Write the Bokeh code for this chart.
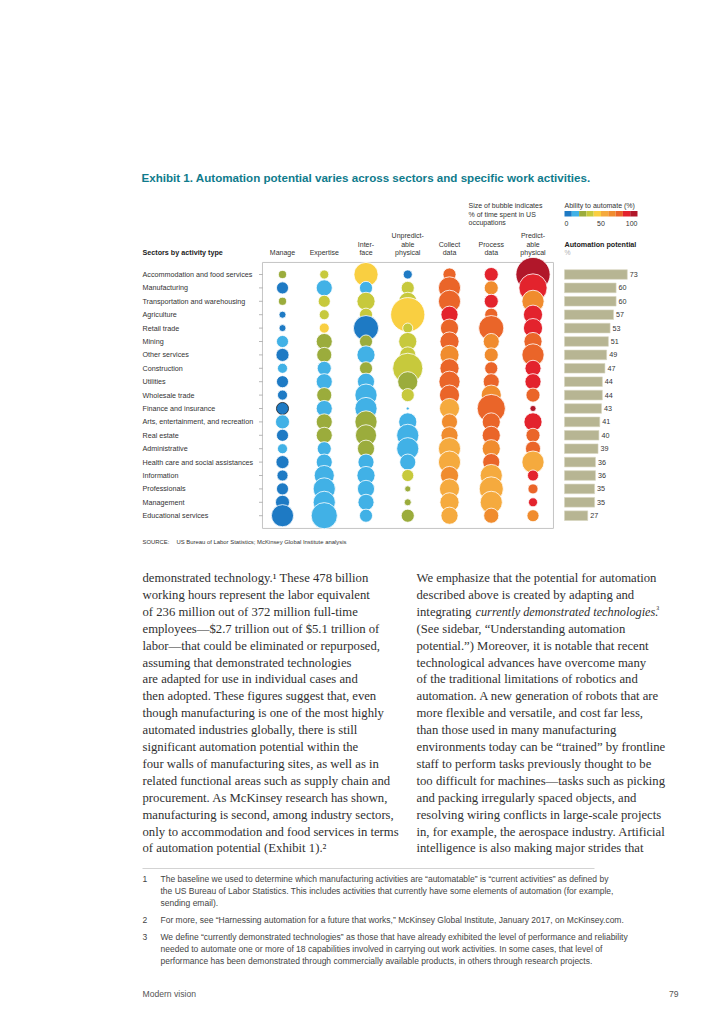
import math
from bokeh.plotting import figure
from bokeh.models import Range1d
from bokeh.embed import file_html
from bokeh.resources import INLINE
from bokeh.core.properties import value

# ---------------- data ----------------
title = "Exhibit 1. Automation potential varies across sectors and specific work activities."

sectors = [
    "Accommodation and food services", "Manufacturing", "Transportation and warehousing",
    "Agriculture", "Retail trade", "Mining", "Other services", "Construction", "Utilities",
    "Wholesale trade", "Finance and insurance", "Arts, entertainment, and recreation",
    "Real estate", "Administrative", "Health care and social assistances", "Information",
    "Professionals", "Management", "Educational services",
]

activity_headers = [
    ["Manage"], ["Expertise"], ["Inter-", "face"], ["Unpredict-", "able", "physical"],
    ["Collect", "data"], ["Process", "data"], ["Predict-", "able", "physical"],
]

# % of time spent (bubble size), one list per activity, sectors in order above
time_manage = [2.8, 6.2, 2.8, 2.1, 2.1, 6.2, 7.3, 4.3, 6.2, 4.3, 6.2, 8.4, 6.2, 4.3, 7.3, 5.2, 6.2, 8.4, 20.9]
time_expertise = [3.5, 11.0, 6.2, 4.3, 4.3, 11.0, 9.7, 8.4, 11.0, 9.7, 11.0, 11.0, 11.0, 8.4, 11.0, 17.2, 20.9, 20.9, 29.1]
time_interface = [24.8, 7.3, 14.0, 7.3, 26.9, 7.3, 14.0, 7.3, 12.5, 20.9, 20.9, 20.9, 19.0, 12.5, 11.0, 14.0, 12.5, 11.0, 7.3]
time_unpred = [3.5, 7.3, 14.0, 49.8, 4.3, 14.0, 11.0, 38.8, 17.2, 7.3, 0.4, 14.0, 20.9, 20.9, 11.0, 6.2, 1.6, 2.1, 7.3]
time_collect = [7.3, 20.9, 20.9, 12.5, 14.0, 15.6, 15.6, 15.6, 19.0, 17.2, 17.2, 11.0, 12.5, 20.9, 20.9, 14.0, 17.2, 15.6, 12.5]
time_process = [8.4, 8.4, 8.4, 7.3, 26.9, 11.0, 8.4, 7.3, 11.0, 17.2, 33.8, 14.0, 14.0, 14.0, 12.5, 20.9, 24.8, 20.9, 9.7]
time_pred = [49.8, 33.8, 20.9, 15.6, 15.6, 14.0, 20.9, 11.0, 11.0, 8.4, 1.6, 14.0, 8.4, 9.7, 20.9, 5.2, 4.3, 3.5, 6.2]

# ability to automate (%) (bubble colour)
auto_manage = [25, 5, 25, 5, 5, 15, 5, 15, 5, 5, 5, 15, 5, 15, 5, 5, 5, 5, 5]
auto_expertise = [35, 15, 35, 35, 45, 25, 25, 15, 15, 25, 15, 25, 25, 15, 15, 15, 15, 15, 15]
auto_interface = [45, 15, 35, 35, 5, 25, 15, 25, 15, 15, 15, 25, 25, 25, 15, 15, 15, 15, 15]
auto_unpred = [5, 35, 35, 45, 35, 35, 35, 35, 25, 35, 15, 15, 15, 15, 15, 35, 25, 25, 25]
auto_collect = [75, 75, 75, 85, 75, 75, 65, 75, 75, 75, 55, 65, 65, 55, 55, 65, 55, 55, 55]
auto_process = [85, 65, 85, 75, 75, 65, 65, 75, 75, 65, 75, 75, 75, 65, 75, 55, 55, 55, 65]
auto_pred = [95, 85, 65, 85, 85, 75, 75, 85, 85, 75, 95, 85, 75, 75, 55, 85, 75, 85, 65]

automation_potential = [73, 60, 60, 57, 53, 51, 49, 47, 44, 44, 43, 41, 40, 39, 36, 36, 35, 35, 27]

scale_ticks = [0, 50, 100]

body_left = [
    "demonstrated technology.\u00b9  These 478 billion",
    "working hours represent the labor equivalent",
    "of 236 million out of 372 million full-time",
    "employees\u2014$2.7 trillion out of $5.1 trillion of",
    "labor\u2014that could be eliminated or repurposed,",
    "assuming that demonstrated technologies",
    "are adapted for use in individual cases and",
    "then adopted. These figures suggest that, even",
    "though manufacturing is one of the most highly",
    "automated industries globally, there is still",
    "significant automation potential within the",
    "four walls of manufacturing sites, as well as in",
    "related functional areas such as supply chain and",
    "procurement. As McKinsey research has shown,",
    "manufacturing is second, among industry sectors,",
    "only to accommodation and food services in terms",
    "of automation potential (Exhibit 1).\u00b2",
]
body_right = [
    "We emphasize that the potential for automation",
    "described above is created by adapting and",
    None,
    "(See sidebar, \u201cUnderstanding automation",
    "potential.\u201d) Moreover, it is notable that recent",
    "technological advances have overcome many",
    "of the traditional limitations of robotics and",
    "automation. A new generation of robots that are",
    "more flexible and versatile, and cost far less,",
    "than those used in many manufacturing",
    "environments today can be \u201ctrained\u201d by frontline",
    "staff to perform tasks previously thought to be",
    "too difficult for machines\u2014tasks such as picking",
    "and packing irregularly spaced objects, and",
    "resolving wiring conflicts in large-scale projects",
    "in, for example, the aerospace industry. Artificial",
    "intelligence is also making major strides that",
]
body_right_line3 = ["integrating ", "currently demonstrated technologies.", "\u00b3"]

footnotes = [
    ("1", ["The baseline we used to determine which manufacturing activities are \u201cautomatable\u201d is \u201ccurrent activities\u201d as defined by",
           "the US Bureau of Labor Statistics. This includes activities that currently have some elements of automation (for example,",
           "sending email)."]),
    ("2", ["For more, see \u201cHarnessing automation for a future that works,\u201d McKinsey Global Institute, January 2017, on McKinsey.com."]),
    ("3", ["We define \u201ccurrently demonstrated technologies\u201d as those that have already exhibited the level of performance and reliability",
           "needed to automate one or more of 18 capabilities involved in carrying out work activities. In some cases, that level of",
           "performance has been demonstrated through commercially available products, in others through research projects."]),
]

# ---------------- styling / layout ----------------
palette = ["#1e7ac4", "#41b1e6", "#9bac3c", "#c7c93c", "#f9cf41",
           "#f5aa3e", "#f08c2e", "#ea6529", "#e3232d", "#b1172a"]
SANS = value("Liberation Sans")
SERIF = value("Liberation Serif")
TEAL = "#0f7b8c"
DARK = "#333333"

W, H = 708, 1008
X0, Y0 = 0, 0  # data units == window pixels
COL_X, COL_DX = 282.0, 41.75
ROW_Y, ROW_DY = 274.0, 13.4
BAR_X, BAR_K = 564.0, 0.86
LEG_X, LEG_K = 564.0, 0.73

p = figure(width=W, height=H, x_range=Range1d(X0, X0 + W), y_range=Range1d(Y0 + H, Y0),
           x_axis_type=None, y_axis_type=None, output_backend="svg",
           toolbar_location=None, min_border=0)
p.outline_line_color = None
p.background_fill_color = "white"
p.border_fill_color = "white"
p.extra_x_ranges = {
    "act": Range1d((X0 - COL_X) / COL_DX, (X0 + W - COL_X) / COL_DX),
    "pct": Range1d((X0 - BAR_X) / BAR_K, (X0 + W - BAR_X) / BAR_K),
    "leg": Range1d((X0 - LEG_X) / LEG_K, (X0 + W - LEG_X) / LEG_K),
}
p.extra_y_ranges = {"row": Range1d((Y0 + H - ROW_Y) / ROW_DY, (Y0 - ROW_Y) / ROW_DY)}


def txt(x, y, s, size, color=DARK, font=SANS, style="normal", align="left",
        baseline="middle", **kw):
    xs = x if isinstance(x, list) else [x]
    ys = y if isinstance(y, list) else [y]
    ss = s if isinstance(s, list) else [s]
    p.text(x=xs, y=ys, text=ss, text_font=font, text_font_size=f"{size}px",
           text_color=color, text_font_style=style, text_align=align,
           text_baseline=baseline, **kw)


rows = list(range(len(sectors)))

# title
txt(141, 177, title, 11.6, color=TEAL, style="bold")

# legends
for i, s in enumerate(["Size of bubble indicates", "% of time spent in US", "occupations"]):
    txt(468, 205 + 8.5 * i, s, 7.0)
txt(564, 205, "Ability to automate (%)", 7.0)
bins = list(range(0, 101, 10))
p.quad(left=bins[:-1], right=bins[1:], top=210.5, bottom=216, fill_color=palette,
       line_color=None, x_range_name="leg")
for t, al in zip(scale_ticks, ["left", "center", "right"]):
    txt(t, 222.5, str(t), 7.0, align=al, x_range_name="leg")
txt(564, 243.5, "Automation potential", 7.2, style="bold", color="#222222")
txt(564, 252, "%", 6.8, color="#b0b0b0")

# headers
txt(142, 252, "Sectors by activity type", 7.2, style="bold", color="#222222")
for j, lines in enumerate(activity_headers):
    for k, ln in enumerate(reversed(lines)):
        txt(j, 252 - 8.3 * k, ln, 7.0, align="center", x_range_name="act")

# plot box and ticks
p.quad(left=-0.48, right=6.49, top=-0.9, bottom=18.95, fill_color=None,
       line_color="#c4c4c4", line_width=1, x_range_name="act", y_range_name="row")
p.segment(x0=[258.5] * len(rows), x1=[262] * len(rows), y0=rows, y1=rows,
          line_color="#999999", line_width=0.7, y_range_name="row")

# sector labels
txt([142] * len(rows), rows, sectors, 7.2, y_range_name="row")

# bubbles
time_cols = [time_manage, time_expertise, time_interface, time_unpred, time_collect, time_process, time_pred]
auto_cols = [auto_manage, auto_expertise, auto_interface, auto_unpred, auto_collect, auto_process, auto_pred]
bx, by, bs, bc, bl = [], [], [], [], []
for j, (tc, ac) in enumerate(zip(time_cols, auto_cols)):
    for i in rows:
        bx.append(j)
        by.append(i)
        bs.append(4.85 * math.sqrt(tc[i]))
        bc.append(palette[min(int(ac[i] // 10), 9)])
        bl.append("#1a1a1a" if (j == 0 and sectors[i] == "Finance and insurance") else "white")
p.scatter(x=bx, y=by, size=bs, fill_color=bc, line_color=bl, line_width=0.8,
          x_range_name="act", y_range_name="row")

# bars
p.hbar(y=rows, left=0, right=automation_potential, height=0.72, fill_color="#b7b593",
       line_color="#d6d5c0", line_width=0.6, x_range_name="pct", y_range_name="row")
txt(automation_potential, rows, [str(v) for v in automation_potential], 7.2,
    x_offset=2.5, x_range_name="pct", y_range_name="row")

# source
txt(142, 541, "SOURCE:", 5.9)
txt(176, 541, "US Bureau of Labor Statistics; McKinsey Global Institute analysis", 5.9)

# body text
LINE0, PITCH = 577.5, 16.9
BODY_SIZE = 12.7
BODY_COLOR = "#303030"
ly = [LINE0 + PITCH * i for i in range(len(body_left))]
txt([142] * len(body_left), ly, body_left, BODY_SIZE, color=BODY_COLOR, font=SERIF)
rl = [(s, y) for s, y in zip(body_right, ly) if s is not None]
txt([416] * len(rl), [y for _, y in rl], [s for s, _ in rl], BODY_SIZE, color=BODY_COLOR, font=SERIF)
y3 = ly[2]
txt(416, y3, body_right_line3[0], BODY_SIZE, color=BODY_COLOR, font=SERIF)
txt(475, y3, body_right_line3[1], 12.3, color=BODY_COLOR, font=SERIF, style="italic")
txt(656, y3 - 2.5, body_right_line3[2], BODY_SIZE * 0.7, color=BODY_COLOR, font=SERIF)

# footnotes
p.segment(x0=[142], x1=[594], y0=[868], y1=[868], line_color="#c8c8c8", line_width=0.8)
fy = 878
for num, lines in footnotes:
    txt(142, fy, num, 8.5, color="#444444")
    for ln in lines:
        txt(160, fy, ln, 8.5, color="#444444")
        fy += 12
    fy += 5

# footer
txt(142, 993, "Modern vision", 8.6, color="#555555")
txt(678, 993, "79", 8.6, color="#555555", align="right")

open("out.html", "w").write(file_html(p, INLINE))
